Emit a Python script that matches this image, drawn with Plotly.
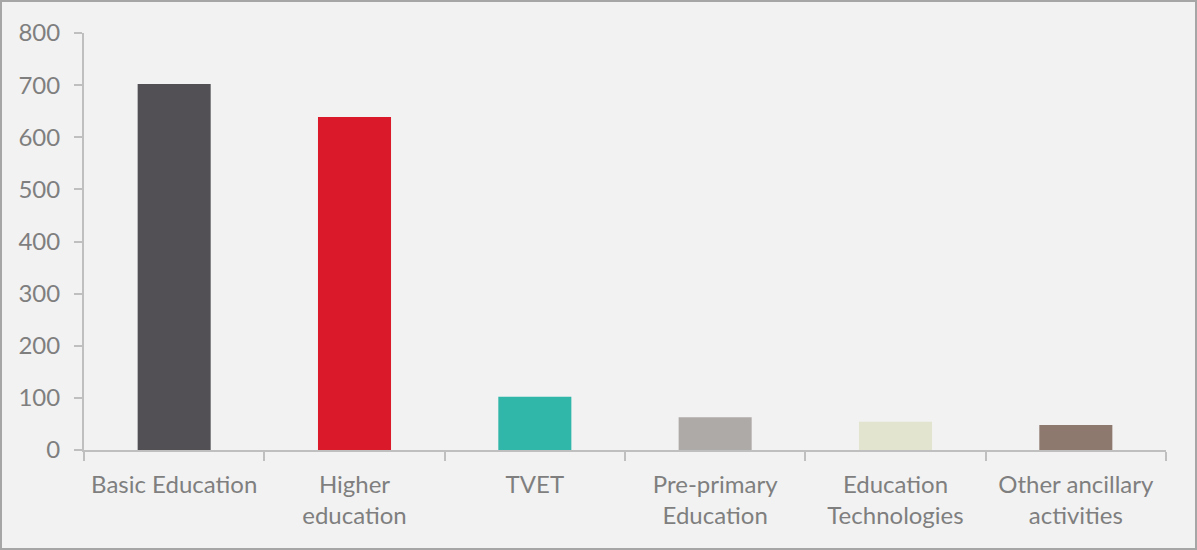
import plotly.graph_objects as go

categories = ["Basic Education", "Higher<br>education", "TVET", "Pre-primary<br>Education",
              "Education<br>Technologies", "Other ancillary<br>activities"]
values = [702, 639, 102, 63, 54, 48]
colors = ["#525055", "#da1a2a", "#31b7a9", "#aeaaa8", "#e2e4cf", "#8d796d"]
y_ticks = [0, 100, 200, 300, 400, 500, 600, 700, 800]

W, H = 1197, 550
L, R, T, B = 84, 31, 33, 100
pw, ph = W - L - R, H - T - B

fig = go.Figure(go.Bar(x=categories, y=values, marker_color=colors, width=0.405,
                       marker_line_width=0))

axis_col = "#bfbfbf"
font_col = "#7f7f7f"
fig.update_layout(
    width=W, height=H,
    margin=dict(l=L, r=R, t=T, b=B),
    paper_bgcolor="#f2f2f2", plot_bgcolor="#f2f2f2",
    font=dict(family="Lato, Open Sans, sans-serif", size=24, color=font_col),
    showlegend=False,
    xaxis=dict(showline=True, linecolor=axis_col, linewidth=2, ticks="outside",
               tickson="boundaries", ticklen=9, tickcolor=axis_col, tickwidth=2,
               showgrid=False, ticklabelstandoff=12, tickfont=dict(size=24, color=font_col)),
    yaxis=dict(range=[0, 800], tickvals=y_ticks, showline=True, linecolor=axis_col,
               linewidth=2, ticks="outside", ticklen=8, tickcolor=axis_col, tickwidth=2,
               showgrid=False, zeroline=False, ticklabelstandoff=9,
               tickfont=dict(size=24, color=font_col)),
    shapes=[dict(type="rect", xref="paper", yref="paper",
                 x0=(1 - L) / pw, x1=(W - 1 - L) / pw,
                 y0=(H - B - (H - 1)) / ph, y1=(H - B - 1) / ph,
                 line=dict(color="#a6a6a6", width=2), fillcolor="rgba(0,0,0,0)")],
)
fig.write_html("out.html", config={"displayModeBar": False},
               post_script="document.body.style.margin='0';")
